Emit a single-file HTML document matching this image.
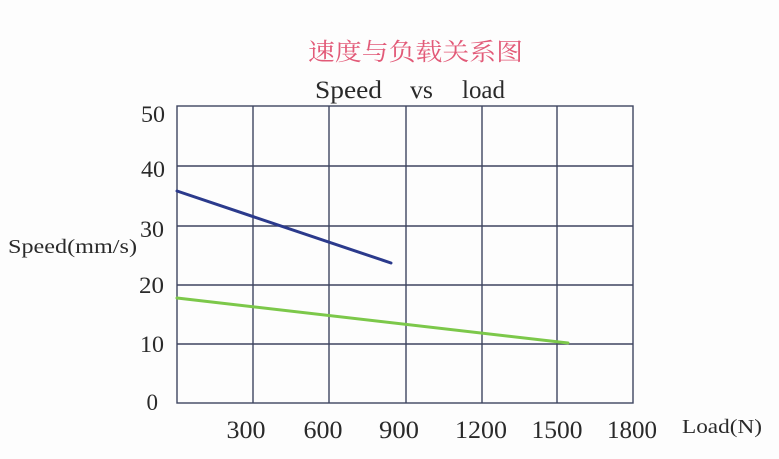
<!DOCTYPE html>
<html>
<head>
<meta charset="utf-8">
<style>
html,body{margin:0;padding:0;background:#fdfdfd;}
svg{display:block;}
text{font-family:"Liberation Serif","Noto Serif CJK SC",serif;fill:#2a2a2a;}
</style>
</head>
<body>
<svg width="779" height="459" viewBox="0 0 779 459" xmlns="http://www.w3.org/2000/svg">
<rect x="0" y="0" width="779" height="459" fill="#fdfdfd"/>
<!-- Titles -->
<text x="308" y="60" font-size="24" textLength="215" lengthAdjust="spacingAndGlyphs" style="fill:#e25a78;font-family:'Noto Serif CJK SC','Noto Sans CJK SC',serif;">速度与负载关系图</text>
<text x="315" y="98" font-size="25" textLength="67" lengthAdjust="spacingAndGlyphs">Speed</text>
<text x="410" y="98" font-size="25" textLength="23" lengthAdjust="spacingAndGlyphs">vs</text>
<text x="462" y="98" font-size="25" textLength="43" lengthAdjust="spacingAndGlyphs">load</text>
<!-- Grid -->
<g stroke="#3e4560" stroke-width="1.4" fill="none">
<rect x="177" y="106" width="456" height="297"/>
<line x1="177" y1="166" x2="633" y2="166"/>
<line x1="177" y1="226" x2="633" y2="226"/>
<line x1="177" y1="285" x2="633" y2="285"/>
<line x1="177" y1="344" x2="633" y2="344"/>
<line x1="253" y1="106" x2="253" y2="403"/>
<line x1="329" y1="106" x2="329" y2="403"/>
<line x1="406" y1="106" x2="406" y2="403"/>
<line x1="482" y1="106" x2="482" y2="403"/>
<line x1="557" y1="106" x2="557" y2="403"/>
</g>
<!-- Series -->
<line x1="177" y1="191" x2="391" y2="263" stroke="#2b3a8c" stroke-width="3" stroke-linecap="round"/>
<line x1="177" y1="298" x2="568" y2="343" stroke="#7cc84a" stroke-width="3" stroke-linecap="round"/>
<!-- Y labels -->
<g font-size="23" text-anchor="end">
<text x="165" y="122" textLength="24" lengthAdjust="spacingAndGlyphs">50</text>
<text x="165" y="177" textLength="24" lengthAdjust="spacingAndGlyphs">40</text>
<text x="164" y="237" textLength="24" lengthAdjust="spacingAndGlyphs">30</text>
<text x="164" y="293" textLength="25" lengthAdjust="spacingAndGlyphs">20</text>
<text x="164" y="352" textLength="24" lengthAdjust="spacingAndGlyphs">10</text>
<text x="158" y="410">0</text>
</g>
<!-- X labels -->
<g font-size="25" text-anchor="middle">
<text x="246" y="438" textLength="39" lengthAdjust="spacingAndGlyphs">300</text>
<text x="323" y="438" textLength="39" lengthAdjust="spacingAndGlyphs">600</text>
<text x="399" y="438" textLength="40" lengthAdjust="spacingAndGlyphs">900</text>
<text x="481" y="438" textLength="52" lengthAdjust="spacingAndGlyphs">1200</text>
<text x="557" y="438" textLength="51" lengthAdjust="spacingAndGlyphs">1500</text>
<text x="632" y="438" textLength="50" lengthAdjust="spacingAndGlyphs">1800</text>
</g>
<!-- Axis titles -->
<text x="682" y="433" font-size="20" textLength="80" lengthAdjust="spacingAndGlyphs">Load(N)</text>
<text x="8" y="253" font-size="20" textLength="129" lengthAdjust="spacingAndGlyphs">Speed(mm/s)</text>
</svg>
</body>
</html>
